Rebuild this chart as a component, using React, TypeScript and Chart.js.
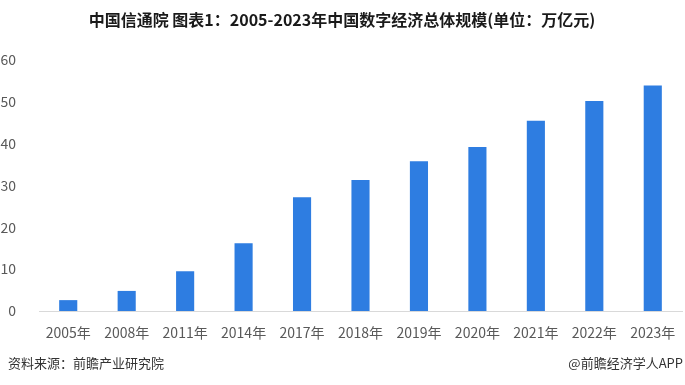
import React, { useEffect, useRef } from "react";
import { Chart, registerables } from "chart.js";

Chart.register(...registerables);

const categories = ["2005年", "2008年", "2011年", "2014年", "2017年", "2018年", "2019年", "2020年", "2021年", "2022年", "2023年"];
const values = [2.6, 4.8, 9.5, 16.2, 27.2, 31.3, 35.8, 39.2, 45.5, 50.2, 53.9];
const titleText = "中国信通院 图表1：2005-2023年中国数字经济总体规模(单位：万亿元)";
const sourceText = "资料来源：前瞻产业研究院";
const brandText = "@前瞻经济学人APP";

const FONT = "'Noto Sans CJK SC', 'Microsoft YaHei', sans-serif";

export default function App() {
  const ref = useRef<HTMLCanvasElement | null>(null);

  useEffect(() => {
    if (!ref.current) return;
    const textPlugin = {
      id: "texts",
      afterDraw(chart: any) {
        const ctx = chart.ctx;
        ctx.save();
        ctx.fillStyle = "#1a1a1a";
        ctx.font = `bold 16px ${FONT}`;
        ctx.textAlign = "center";
        ctx.textBaseline = "middle";
        ctx.fillText(titleText, 342, 20);
        ctx.font = `13px ${FONT}`;
        ctx.fillStyle = "#333333";
        ctx.textAlign = "left";
        ctx.fillText(sourceText, 8, 363);
        ctx.textAlign = "right";
        ctx.fillText(brandText, 683, 363);
        ctx.restore();
      },
    };
    const chart = new Chart(ref.current, {
      type: "bar",
      data: {
        labels: categories,
        datasets: [
          {
            data: values,
            backgroundColor: "#2e7de1",
            barPercentage: 0.31,
            categoryPercentage: 1,
          },
        ],
      },
      options: {
        animation: false,
        responsive: false,
        layout: { padding: { top: 60, right: 3, left: 0, bottom: 0 } },
        plugins: {
          legend: { display: false },
          title: { display: false },
          tooltip: { enabled: false },
        },
        scales: {
          x: {
            grid: { display: false },
            border: { display: true, color: "#d9d9d9", width: 1 },
            ticks: {
              color: "#595959",
              font: { size: 14, family: FONT },
              padding: 5,
              maxRotation: 0,
              autoSkip: false,
            },
            afterFit(scale: any) {
              scale.height = 74;
            },
          },
          y: {
            min: 0,
            max: 60,
            grid: { display: false },
            border: { display: false },
            ticks: {
              stepSize: 10,
              color: "#595959",
              font: { size: 14, family: FONT },
              padding: 15,
            },
            afterFit(scale: any) {
              scale.width = 39;
            },
          },
        },
      },
      plugins: [textPlugin],
    });
    return () => chart.destroy();
  }, []);

  return (
    <div style={{ position: "fixed", left: 0, top: 0, width: 685, height: 385, background: "#fff" }}>
      <canvas ref={ref} width={685} height={385} style={{ width: 685, height: 385, display: "block" }} />
    </div>
  );
}
